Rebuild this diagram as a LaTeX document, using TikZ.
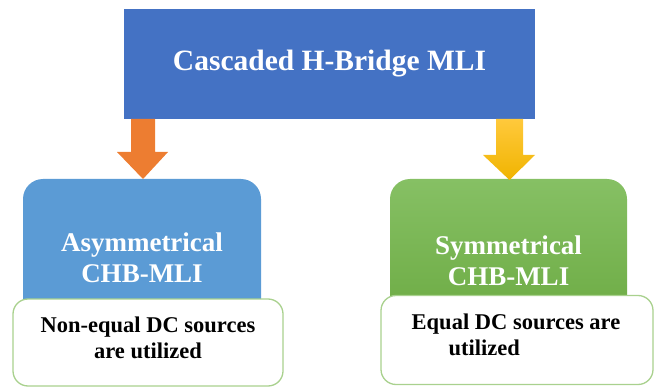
\documentclass[tikz,border=0pt]{standalone}
\usepackage{fontspec}
\newfontfamily\timesbold{Liberation Serif Bold}
\definecolor{topblue}{HTML}{4472C4}
\definecolor{leftblue}{HTML}{5B9BD5}
\definecolor{greentop}{HTML}{86C064}
\definecolor{greenbot}{HTML}{69A83F}
\definecolor{arrorange}{HTML}{ED7D31}
\definecolor{yeltop}{HTML}{FFC93C}
\definecolor{yelbot}{HTML}{F0B400}
\definecolor{noteborder}{HTML}{A9D18E}
\tikzset{
  titlebox/.style={fill=topblue, text=white, font=\timesbold\fontsize{29.5}{30}\selectfont, inner sep=0pt},
  catbox/.style={rounded corners=20pt, text=white, inner sep=0pt, align=center, font=\timesbold\fontsize{27}{31}\selectfont},
  notebox/.style={draw=noteborder, line width=1.3pt, fill=white, rounded corners=15pt, inner sep=0pt},
  notetext/.style={font=\timesbold\fontsize{22.5}{26}\selectfont, align=center, inner sep=0pt},
}
\begin{document}
\begin{tikzpicture}[x=1pt,y=-1pt]
\useasboundingbox (0,0) rectangle (655,387);
% top
\node[titlebox, minimum width=411pt, minimum height=110pt] (top) at (329.5,64) {Cascaded H-Bridge MLI};
% category boxes
\node[catbox, fill=leftblue, minimum width=238pt, minimum height=158pt] (asym) at (142,258) {Asymmetrical\\CHB-MLI};
\node[catbox, top color=greentop, bottom color=greenbot, minimum width=237pt, minimum height=164pt] (sym) at (508.5,261) {Symmetrical\\CHB-MLI};
% block arrows
\fill[arrorange] (131,119) -- (155,119) -- (155,152) -- (168,152) -- (143,179) -- (117,152) -- (131,152) -- cycle;
\shade[top color=yeltop, bottom color=yelbot] (496,119) -- (523,119) -- (523,155) -- (535,155) -- (509.5,180) -- (483,155) -- (496,155) -- cycle;
% notes
\node[notebox, minimum width=270pt, minimum height=87pt] (asymnote) at (148,342.5) {};
\node[notetext] (asymtext) at (148,338) {Non-equal DC sources\\are utilized};
\node[notebox, minimum width=272pt, minimum height=89pt] (symnote) at (517,340) {};
\node[notetext, align=left] (symtext) at (516,335) {Equal DC sources are\\\hspace*{37pt}utilized};
\end{tikzpicture}
\end{document}
